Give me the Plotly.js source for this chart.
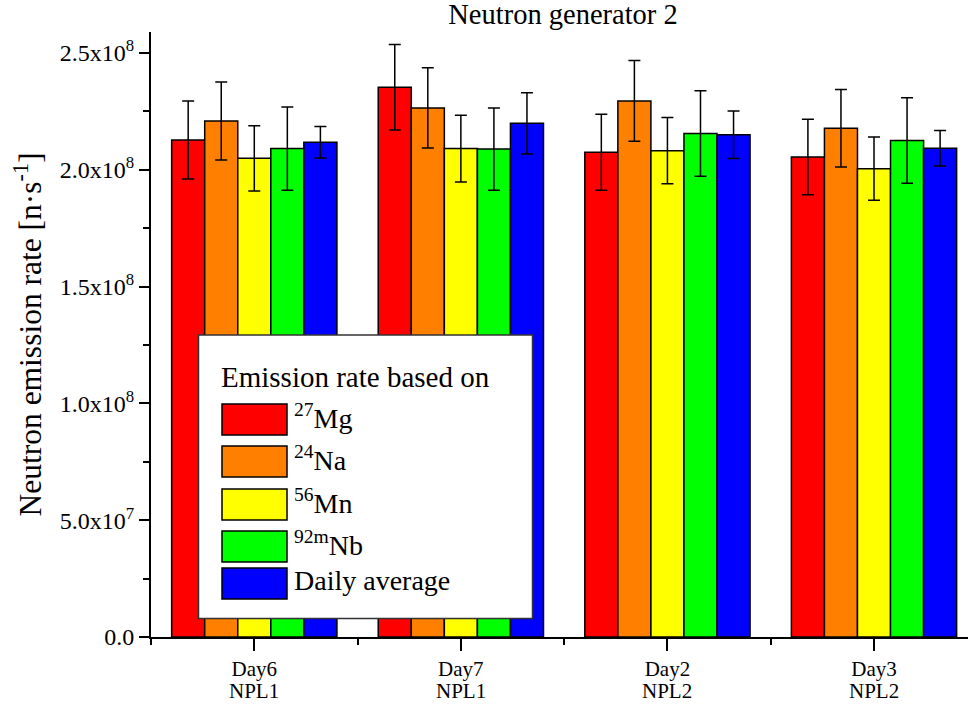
<!DOCTYPE html>
<html>
<head>
<meta charset="utf-8">
<script src="https://cdn.plot.ly/plotly-3.0.1.min.js"></script>
<style>html,body{margin:0;padding:0;background:#fff;}#chart{width:968px;height:704px;}</style>
</head>
<body>
<div id="chart"></div>
<script>
// ---- data ----
const dayLabels = ["Day6", "Day7", "Day2", "Day3"];
const siteLabels = ["NPL1", "NPL1", "NPL2", "NPL2"];
const seriesNames = ["<sup>27</sup>Mg", "<sup>24</sup>Na", "<sup>56</sup>Mn", "<sup>92m</sup>Nb", "Daily average"];
const seriesColors = ["#FF0000", "#FF8000", "#FFFF00", "#00FF00", "#0000FF"];
const mg27 = [2.128e8, 2.353e8, 2.075e8, 2.055e8];
const mg27Err = [0.167e8, 0.183e8, 0.163e8, 0.162e8];
const na24 = [2.209e8, 2.265e8, 2.295e8, 2.178e8];
const na24Err = [0.167e8, 0.172e8, 0.173e8, 0.166e8];
const mn56 = [2.049e8, 2.091e8, 2.082e8, 2.005e8];
const mn56Err = [0.140e8, 0.143e8, 0.142e8, 0.135e8];
const nb92m = [2.091e8, 2.089e8, 2.155e8, 2.126e8];
const nb92mErr = [0.178e8, 0.176e8, 0.183e8, 0.183e8];
const dailyAvg = [2.118e8, 2.199e8, 2.150e8, 2.092e8];
const dailyAvgErr = [0.067e8, 0.131e8, 0.102e8, 0.076e8];
const yTickVals = [0, 5e7, 1e8, 1.5e8, 2e8, 2.5e8];
const yTickText = ["0.0", "5.0x10<sup>7</sup>", "1.0x10<sup>8</sup>", "1.5x10<sup>8</sup>", "2.0x10<sup>8</sup>", "2.5x10<sup>8</sup>"];
const chartTitle = "Neutron generator 2";
const yTitle = "Neutron emission rate [n·s<sup>-1</sup>]";
const legendTitle = "Emission rate based on";

const values = [mg27, na24, mn56, nb92m, dailyAvg];
const errors = [mg27Err, na24Err, mn56Err, nb92mErr, dailyAvgErr];
const xPos = dayLabels.map((c, i) => i);

const FONT = "'Liberation Serif', 'Times New Roman', Times, serif";

const traces = values.map((v, k) => ({
  type: "bar",
  x: xPos,
  y: v,
  name: seriesNames[k],
  marker: {color: seriesColors[k], line: {color: "#000", width: 1.5}},
  error_y: {type: "data", array: errors[k], visible: true, color: "#000", thickness: 1.5, width: 6},
  showlegend: false
}));

// layout geometry (pixels)
const W = 968, H = 704;
const L = 151, R = 0, T = 32, B = 67;
const pw = W - L - R, ph = H - T - B;
const px = x => (x - L) / pw;
const py = y => (H - B - y) / ph;

const shapes = [];
const annotations = [];
// small extension of the x axis line to the left of the y axis
shapes.push({type: "line", xref: "paper", yref: "paper", x0: px(140), x1: px(151), y0: 0, y1: 0,
  line: {color: "#000", width: 2}});
// second line of the category labels
siteLabels.forEach((s, i) => {
  annotations.push({xref: "x", yref: "paper", x: xPos[i], y: py(691), xanchor: "center", yanchor: "middle",
    text: s, showarrow: false, font: {family: FONT, size: 21, color: "#000"}});
});
// legend box
shapes.push({type: "rect", xref: "paper", yref: "paper", x0: px(198.5), x1: px(532.5), y0: py(618.5), y1: py(335),
  fillcolor: "#fff", line: {color: "#333", width: 1.5}, layer: "above"});
annotations.push({xref: "paper", yref: "paper", x: px(219), y: py(377), xanchor: "left", yanchor: "middle",
  text: legendTitle, showarrow: false, font: {family: FONT, size: 29, color: "#000"}});
const rowTops = [404, 446, 489, 531, 568];
seriesNames.forEach((n, k) => {
  const t = rowTops[k], b = t + 31;
  shapes.push({type: "rect", xref: "paper", yref: "paper", x0: px(222), x1: px(287), y0: py(b), y1: py(t),
    fillcolor: seriesColors[k], line: {color: "#000", width: 1.5}, layer: "above"});
  annotations.push({xref: "paper", yref: "paper", x: px(292), y: py((t + b) / 2 - 3), xanchor: "left", yanchor: "middle",
    text: n, showarrow: false, font: {family: FONT, size: 28, color: "#000"}});
});

const layout = {
  width: W, height: H,
  margin: {l: L, r: R, t: T, b: B, pad: 0},
  paper_bgcolor: "#fff", plot_bgcolor: "#fff",
  font: {family: FONT, color: "#000"},
  title: {text: chartTitle, font: {family: FONT, size: 28.5, color: "#000"}, xref: "container", x: 563 / W, xanchor: "center", y: 1 - 14 / H, yanchor: "middle"},
  barmode: "group", bargap: 0.2, bargroupgap: 0,
  showlegend: false,
  xaxis: {
    range: [-0.5, 3.455], tickmode: "array", tickvals: xPos, ticktext: dayLabels,
    ticks: "outside", ticklen: 12, tickwidth: 2, tickcolor: "#000",
    showline: true, linecolor: "#000", linewidth: 2, showgrid: false, zeroline: false,
    tickfont: {family: FONT, size: 21, color: "#000"},
    minor: {tick0: 0.5, dtick: 1, ticks: "outside", ticklen: 6, tickwidth: 2, tickcolor: "#000", showgrid: false}
  },
  yaxis: {
    range: [0, 2.59e8], tickmode: "array", tickvals: yTickVals, ticktext: yTickText,
    ticks: "outside", ticklen: 10, tickwidth: 2, tickcolor: "#000",
    showline: true, linecolor: "#000", linewidth: 2, showgrid: false, zeroline: false,
    tickfont: {family: FONT, size: 24, color: "#000"},
    minor: {tick0: 0, dtick: 2.5e7, ticks: "outside", ticklen: 6, tickwidth: 2, tickcolor: "#000", showgrid: false},
    title: {text: yTitle, font: {family: FONT, size: 31.5, color: "#000"}, standoff: 9}
  },
  shapes: shapes,
  annotations: annotations
};

Plotly.newPlot("chart", traces, layout, {displayModeBar: false, staticPlot: true});
</script>
</body>
</html>
